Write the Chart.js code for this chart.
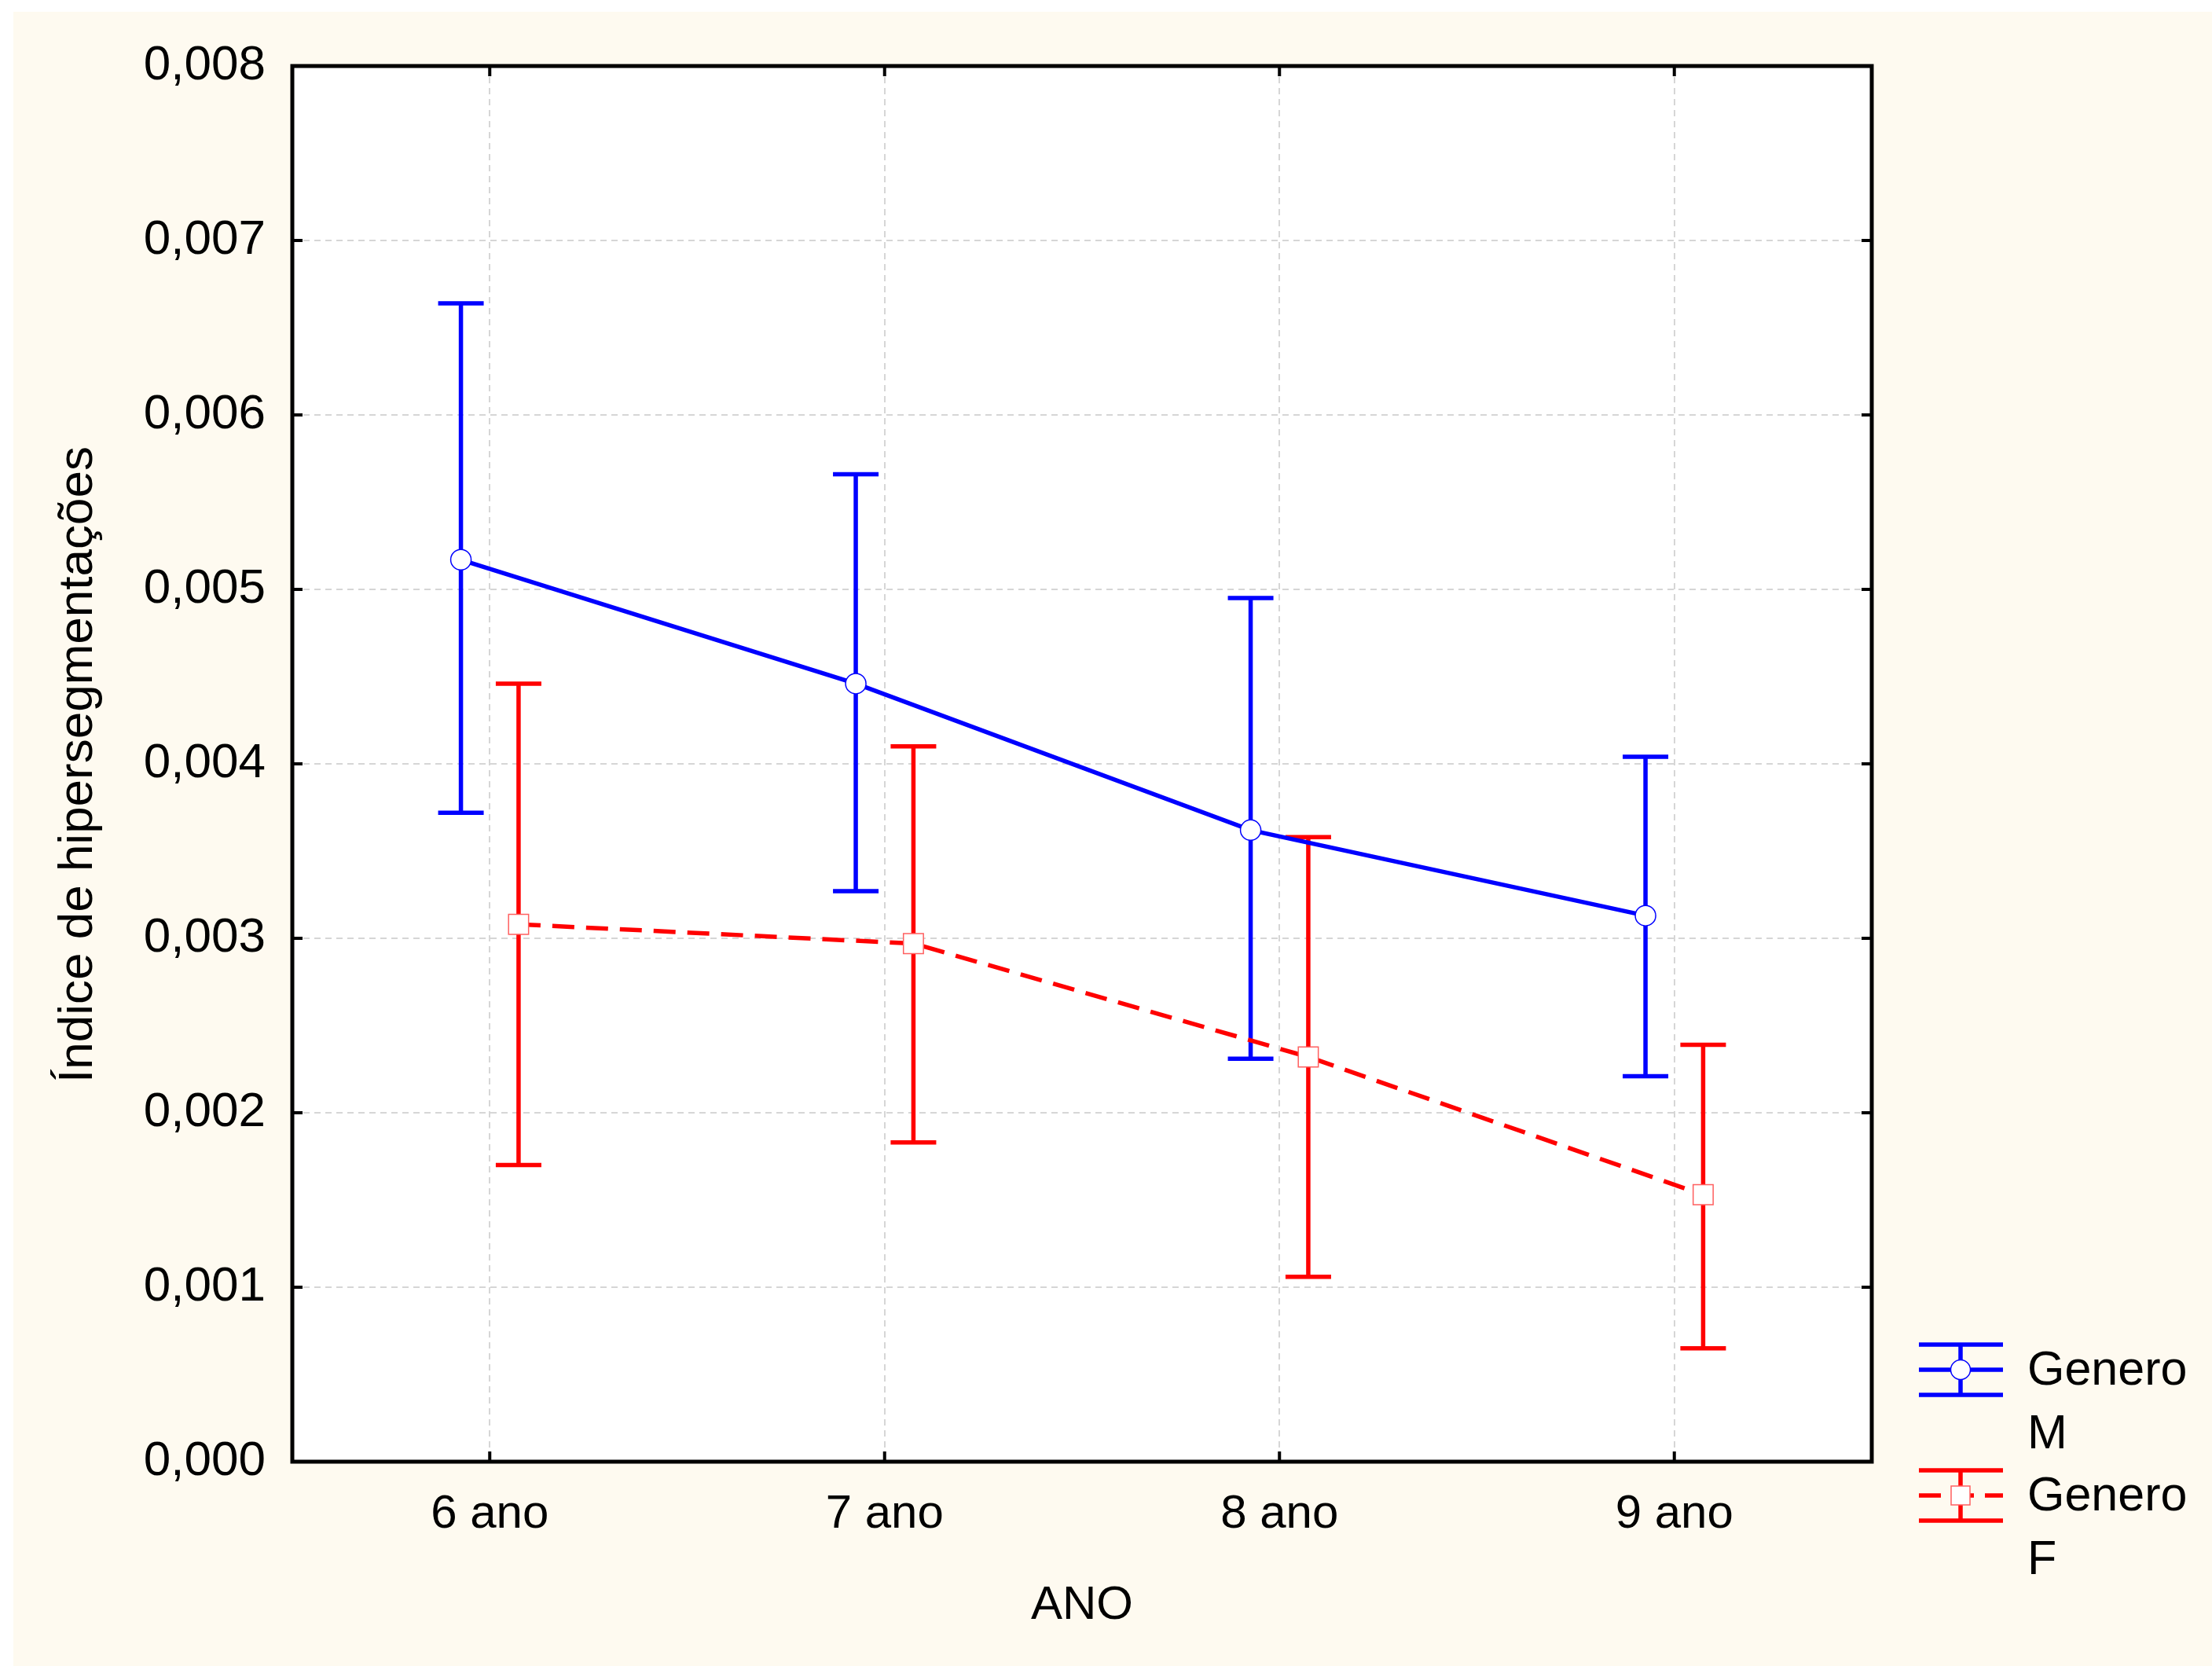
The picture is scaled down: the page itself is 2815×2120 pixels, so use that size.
<!DOCTYPE html>
<html>
<head>
<meta charset="utf-8">
<script src="https://cdn.jsdelivr.net/npm/chart.js@4.4.1/dist/chart.umd.min.js"></script>
<style>
  html, body { margin: 0; padding: 0; background: #ffffff; }
  #wrap { width: 2815px; height: 2120px; position: relative; }
</style>
</head>
<body>
<div id="wrap"><canvas id="chart" width="2815" height="2120"></canvas></div>
<script>
// categorias do eixo X
const CATEGORIES = ['6 ano', '7 ano', '8 ano', '9 ano'];
// ticks do eixo Y
const Y_TICKS = [0, 0.001, 0.002, 0.003, 0.004, 0.005, 0.006, 0.007, 0.008];

// Genero M (media e intervalo)
const M_MEAN  = [0.00517, 0.00446, 0.00362, 0.00313];
const M_UPPER = [0.00664, 0.00566, 0.00495, 0.00404];
const M_LOWER = [0.00372, 0.00327, 0.00231, 0.00221];

// Genero F (media e intervalo)
const F_MEAN  = [0.00308, 0.00297, 0.00232, 0.00153];
const F_UPPER = [0.00446, 0.00410, 0.00358, 0.00239];
const F_LOWER = [0.00170, 0.00183, 0.00106, 0.00065];

const LEGEND_LABELS = [['Genero', 'M'], ['Genero', 'F']];

const BLUE = '#0000ff';
const RED  = '#ff0000';
const FONT = '"Liberation Sans", Arial, sans-serif';
const DODGE = 0.073;   // deslocamento horizontal entre as series

const toPoints = (vals, shift) => vals.map((v, i) => ({ x: i + 1 + shift, y: v }));

const fmt = v => v.toFixed(3).replace('.', ',');

// ── plugin: fundo, grade, barras de erro, moldura, legenda, titulos ──
const statPlugin = {
    id: 'statPlugin',
    beforeDraw(chart) {
        const { ctx, chartArea: a } = chart;
        ctx.save();
        ctx.fillStyle = '#ffffff';
        ctx.fillRect(0, 0, chart.width, chart.height);
        ctx.fillStyle = '#fefaf0';
        ctx.fillRect(17, 15, chart.width - 17, chart.height - 15);
        ctx.fillStyle = '#ffffff';
        ctx.fillRect(a.left, a.top, a.right - a.left, a.bottom - a.top);

        // grade tracejada
        const xs = chart.scales.x, ys = chart.scales.y;
        ctx.strokeStyle = '#d6d6d6';
        ctx.lineWidth = 2;
        ctx.setLineDash([8, 6]);
        Y_TICKS.forEach(v => {
            const y = Math.round(ys.getPixelForValue(v));
            ctx.beginPath(); ctx.moveTo(a.left, y); ctx.lineTo(a.right, y); ctx.stroke();
        });
        CATEGORIES.forEach((_, i) => {
            const x = Math.round(xs.getPixelForValue(i + 1));
            ctx.beginPath(); ctx.moveTo(x, a.top); ctx.lineTo(x, a.bottom); ctx.stroke();
        });
        ctx.restore();
    },
    beforeDatasetsDraw(chart) {
        const { ctx } = chart;
        const xs = chart.scales.x, ys = chart.scales.y;
        const bars = (lo, hi, shift, color) => {
            ctx.strokeStyle = color;
            ctx.lineWidth = 5.5;
            lo.forEach((l, i) => {
                const x = xs.getPixelForValue(i + 1 + shift);
                const y1 = ys.getPixelForValue(l), y2 = ys.getPixelForValue(hi[i]);
                ctx.beginPath();
                ctx.moveTo(x, y1); ctx.lineTo(x, y2);
                ctx.moveTo(x - 29, y1); ctx.lineTo(x + 29, y1);
                ctx.moveTo(x - 29, y2); ctx.lineTo(x + 29, y2);
                ctx.stroke();
            });
        };
        ctx.save();
        bars(M_LOWER, M_UPPER, -DODGE, BLUE);
        bars(F_LOWER, F_UPPER, DODGE, RED);
        ctx.restore();
    },
    afterDraw(chart) {
        const { ctx, chartArea: a } = chart;
        const xs = chart.scales.x, ys = chart.scales.y;
        ctx.save();
        // moldura
        ctx.strokeStyle = '#000';
        ctx.lineWidth = 5;
        ctx.strokeRect(a.left, a.top, a.right - a.left, a.bottom - a.top);
        // ticks para dentro
        ctx.lineWidth = 4;
        ctx.beginPath();
        Y_TICKS.forEach(v => {
            const y = ys.getPixelForValue(v);
            ctx.moveTo(a.left, y); ctx.lineTo(a.left + 13, y);
            ctx.moveTo(a.right, y); ctx.lineTo(a.right - 13, y);
        });
        CATEGORIES.forEach((_, i) => {
            const x = xs.getPixelForValue(i + 1);
            ctx.moveTo(x, a.bottom); ctx.lineTo(x, a.bottom - 13);
            ctx.moveTo(x, a.top); ctx.lineTo(x, a.top + 13);
        });
        ctx.stroke();

        // titulos dos eixos
        ctx.fillStyle = '#000';
        ctx.font = '60px ' + FONT;
        ctx.textAlign = 'center';
        ctx.textBaseline = 'middle';
        ctx.fillText('ANO', (a.left + a.right) / 2, 2043);
        ctx.font = '62px ' + FONT;
        ctx.translate(100, 973);
        ctx.rotate(-Math.PI / 2);
        ctx.fillText('Índice de hipersegmentações', 0, 0);
        ctx.restore();

        // legenda
        ctx.save();
        const drawSym = (cy, color, dashed, square) => {
            const x0 = 2442, x1 = 2549, cx = 2495;
            ctx.strokeStyle = color;
            ctx.lineWidth = 5.5;
            ctx.beginPath();
            ctx.moveTo(x0, cy - 32); ctx.lineTo(x1, cy - 32);
            ctx.moveTo(x0, cy + 32); ctx.lineTo(x1, cy + 32);
            ctx.moveTo(cx, cy - 32); ctx.lineTo(cx, cy + 32);
            ctx.stroke();
            ctx.setLineDash(dashed ? [28, 14] : []);
            ctx.beginPath(); ctx.moveTo(x0, cy); ctx.lineTo(x1, cy); ctx.stroke();
            ctx.setLineDash([]);
            ctx.fillStyle = '#fff';
            ctx.lineWidth = 1.5;
            ctx.beginPath();
            if (square) { ctx.rect(cx - 12, cy - 12, 24, 24); }
            else { ctx.arc(cx, cy, 12.5, 0, Math.PI * 2); }
            ctx.fill();
            ctx.strokeStyle = square ? '#ff6060' : BLUE;
            ctx.stroke();
        };
        drawSym(1743, BLUE, false, false);
        drawSym(1903, RED, true, true);
        ctx.fillStyle = '#000';
        ctx.font = '61px ' + FONT;
        ctx.textAlign = 'left';
        ctx.textBaseline = 'middle';
        ctx.fillText(LEGEND_LABELS[0][0], 2580, 1745);
        ctx.fillText(LEGEND_LABELS[0][1], 2580, 1826);
        ctx.fillText(LEGEND_LABELS[1][0], 2580, 1905);
        ctx.fillText(LEGEND_LABELS[1][1], 2580, 1986);
        ctx.restore();
    },
};

new Chart(document.getElementById('chart'), {
    type: 'line',
    data: {
        datasets: [
            {
                label: 'Genero M',
                data: toPoints(M_MEAN, -DODGE),
                borderColor: BLUE,
                borderWidth: 5.5,
                pointStyle: 'circle',
                pointRadius: 13,
                pointBorderWidth: 1.5,
                pointBackgroundColor: '#ffffff',
                pointBorderColor: BLUE,
                tension: 0,
                fill: false,
            },
            {
                label: 'Genero F',
                data: toPoints(F_MEAN, DODGE),
                borderColor: RED,
                borderWidth: 5.5,
                borderDash: [28, 15],
                pointStyle: 'rect',
                pointRadius: 18,
                pointBorderWidth: 1.5,
                pointBackgroundColor: '#ffffff',
                pointBorderColor: '#ff6060',
                tension: 0,
                fill: false,
            },
        ],
    },
    options: {
        responsive: false,
        animation: false,
        devicePixelRatio: 1,
        layout: { padding: { top: 84, right: 433, left: 0, bottom: 0 } },
        plugins: { legend: { display: false }, tooltip: { enabled: false } },
        scales: {
            x: {
                type: 'linear',
                min: 0.5,
                max: 4.5,
                afterBuildTicks: s => { s.ticks = CATEGORIES.map((_, i) => ({ value: i + 1 })); },
                afterFit: s => { s.height = 260; },
                grid: { display: false, drawTicks: false },
                border: { display: false },
                ticks: {
                    color: '#000',
                    padding: 31,
                    font: { family: FONT, size: 60 },
                    callback: v => CATEGORIES[v - 1],
                },
            },
            y: {
                min: 0,
                max: 0.008,
                afterBuildTicks: s => { s.ticks = Y_TICKS.map(v => ({ value: v })); },
                afterFit: s => { s.width = 372; },
                grid: { display: false, drawTicks: false },
                border: { display: false },
                ticks: {
                    color: '#000',
                    padding: 34,
                    font: { family: FONT, size: 62 },
                    callback: v => fmt(v),
                },
            },
        },
    },
    plugins: [statPlugin],
});
</script>
</body>
</html>
